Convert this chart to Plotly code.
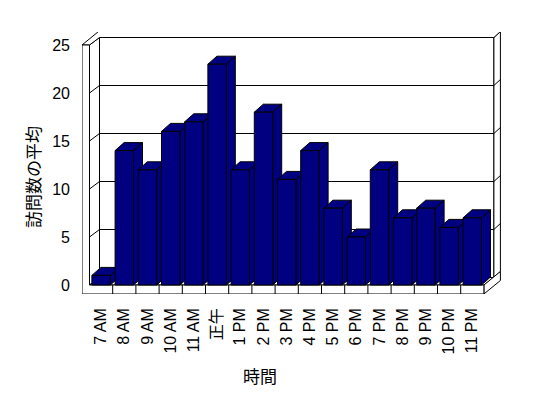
import plotly.graph_objects as go

# ---- data ----
hours = ["7 AM", "8 AM", "9 AM", "10 AM", "11 AM", "正午", "1 PM", "2 PM", "3 PM",
         "4 PM", "5 PM", "6 PM", "7 PM", "8 PM", "9 PM", "10 PM", "11 PM"]
avg_visits = [1, 14, 12, 16, 17, 23, 12, 18, 11, 14, 8, 5, 12, 7, 8, 6, 7]
y_ticks = [0, 5, 10, 15, 20, 25]
x_title = "時間"
y_title = "訪問数の平均"

# ---- geometry (pixel based, converted to data units) ----
BODY = 8                                # default page body margin
W, H = 548 - BODY, 398 - BODY
L, R, T, B = 82, 501, 32, 294           # plot area in screen pixels
CAT_W = 23.2                            # px per category
X_INNER_LEFT = 89.5                     # px of category boundary -0.5
Y_ZERO = 285                            # px of value 0 (front plane)
PX_UNIT = 9.6                           # px per value unit

def ux(px):
    return -0.5 + (px - X_INNER_LEFT) / CAT_W

def dxu(px):
    return px / CAT_W

def dyu(px):
    return px / PX_UNIT

n = len(hours)
xa, xb, xr = ux(L), -0.5, n - 0.5
ytop = y_ticks[-1]
yf = -dyu(B - Y_ZERO)
d1x, d1y = dxu(10), dyu(7.5)            # inner depth
d2x, d2y = dxu(16.5), dyu(13.5)         # depth incl. back wall thickness
bdx, bdy = dxu(9), dyu(8)               # bar depth
hw = 0.397                              # half bar width

x_range = [ux(L), ux(R)]
y_range = [-dyu(B - Y_ZERO), dyu(Y_ZERO - T)]

NAVY = "#000080"
shapes = []

def poly(pts, fill="white", lw=1):
    path = "M " + " L ".join(f"{x},{y}" for x, y in pts) + " Z"
    shapes.append(dict(type="path", path=path, xref="x", yref="y",
                       fillcolor=fill, line=dict(color="black", width=lw),
                       layer="below"))

def seg(p, q):
    shapes.append(dict(type="line", x0=p[0], y0=p[1], x1=q[0], y1=q[1],
                       xref="x", yref="y", line=dict(color="black", width=1),
                       layer="below"))

# back wall inner face
poly([(xb + d1x, d1y), (xr + d1x, d1y), (xr + d1x, ytop + d1y), (xb + d1x, ytop + d1y)])
# back wall right end face
poly([(xr + d1x, d1y), (xr + d1x, ytop + d1y), (xr + d2x, ytop + d2y), (xr + d2x, d2y)])
# left wall inner face
poly([(xb, 0), (xb, ytop), (xb + d1x, ytop + d1y), (xb + d1x, d1y)])
# top of walls
poly([(xa, ytop), (xb, ytop), (xb + d1x, ytop + d1y), (xr + d1x, ytop + d1y),
      (xr + d2x, ytop + d2y), (xa + d2x, ytop + d2y)])
# floor top
poly([(xb, 0), (xr, 0), (xr + d1x, d1y), (xb + d1x, d1y)])
# floor right face
poly([(xr, 0), (xr, yf), (xr + d2x, yf + d2y), (xr + d2x, d2y)])
# front face (left wall + floor)
poly([(xa, ytop), (xb, ytop), (xb, 0), (xr, 0), (xr, yf), (xa, yf)])

# gridlines
for v in y_ticks[1:-1]:
    seg((xb, v), (xb + d1x, v + d1y))
    seg((xb + d1x, v + d1y), (xr + d1x, v + d1y))
    seg((xr + d1x, v + d1y), (xr + d2x, v + d2y))
# floor front dividers
for k in range(1, n):
    seg((k - 0.5, yf), (k - 0.5, 0))

# bar tops and sides
for i, v in enumerate(avg_visits):
    poly([(i + hw, 0), (i + hw, v), (i + hw + bdx, v + bdy), (i + hw + bdx, bdy)], fill=NAVY)
    poly([(i - hw, v), (i + hw, v), (i + hw + bdx, v + bdy), (i - hw + bdx, v + bdy)], fill=NAVY)

fig = go.Figure()
fig.add_trace(go.Bar(
    x=list(range(n)), y=avg_visits, width=2 * hw,
    marker=dict(color=NAVY, line=dict(color="black", width=1)),
    hoverinfo="skip", showlegend=False,
))

FONT = "Liberation Sans, Arial, Noto Sans CJK JP"

fig.update_layout(
    width=W, height=H,
    margin=dict(l=L - BODY, r=(W + BODY) - R, t=T - BODY, b=(H + BODY) - B, pad=0),
    paper_bgcolor="white", plot_bgcolor="white",
    font=dict(family=FONT, size=16, color="black"),
    shapes=shapes,
    showlegend=False,
    xaxis=dict(range=x_range, tickmode="array", tickvals=list(range(n)), ticktext=hours,
               tickangle=-90, showgrid=False, zeroline=False, showline=False,
               ticks="", ticklabelstandoff=10,
               tickfont=dict(family=FONT, size=16, color="black"), fixedrange=True),
    yaxis=dict(range=y_range, tickmode="array", tickvals=y_ticks,
               showgrid=False, zeroline=False, showline=False, ticks="",
               ticklabelstandoff=11,
               tickfont=dict(family=FONT, size=16, color="black"), fixedrange=True),
    annotations=[
        dict(text=x_title, xref="paper", yref="paper",
             x=(259.5 - L) / (R - L), y=(B - 375) / (B - T),
             xanchor="center", yanchor="middle", showarrow=False,
             font=dict(family="Noto Sans CJK JP", size=17, color="black")),
        dict(text=y_title, xref="paper", yref="paper",
             x=(32 - L) / (R - L), y=(B - 177) / (B - T), textangle=-90,
             xanchor="center", yanchor="middle", showarrow=False,
             font=dict(family="Noto Sans CJK JP", size=17, color="black")),
    ],
)

fig.write_html("out.html")
